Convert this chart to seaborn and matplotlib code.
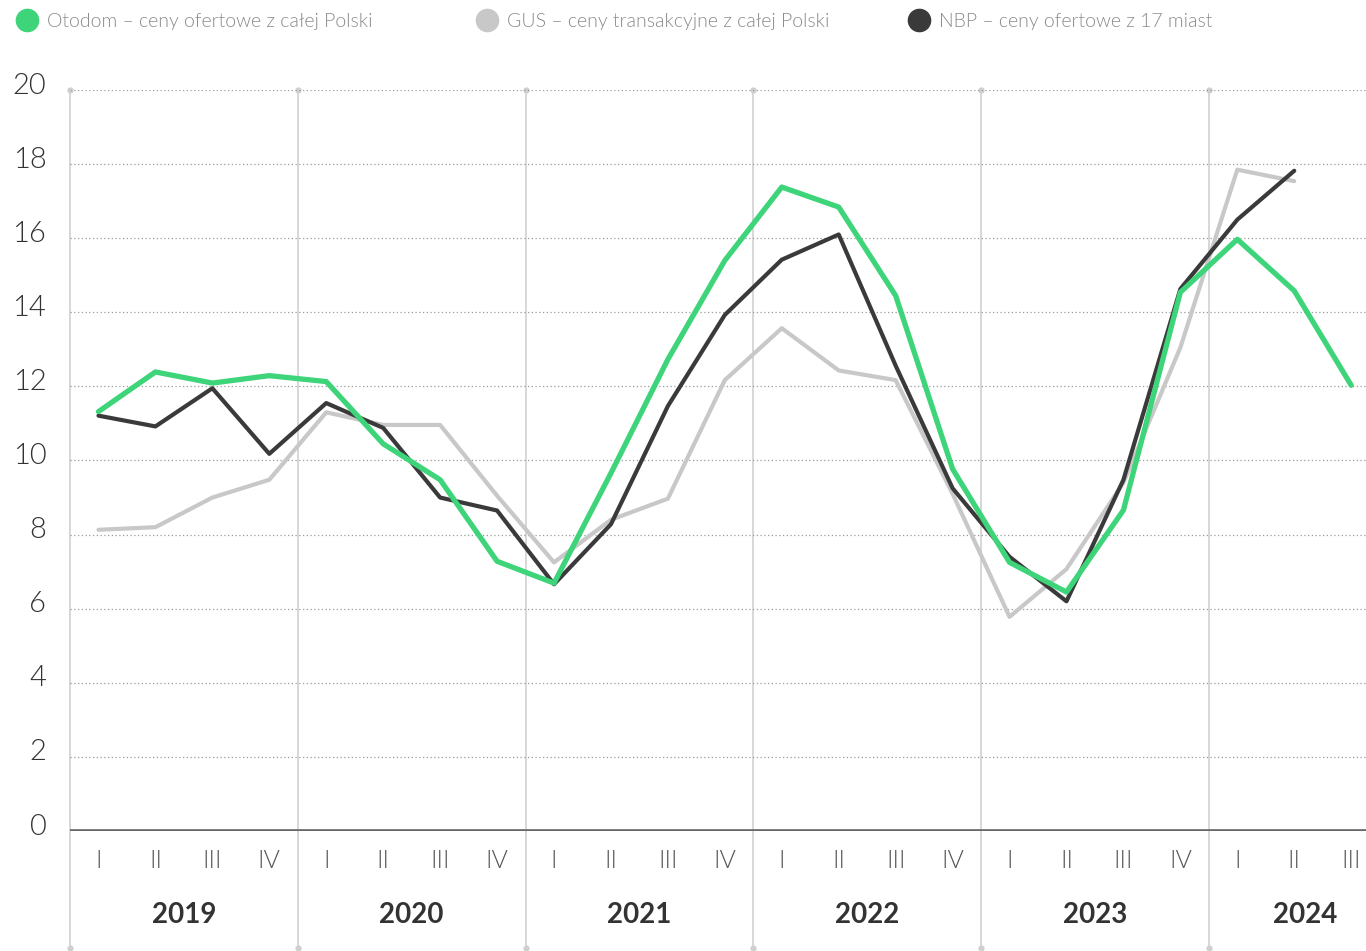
import numpy as np
import pandas as pd
import seaborn as sns
import matplotlib.pyplot as plt
import matplotlib.transforms as mtransforms
from matplotlib.lines import Line2D

# quarters 2019 I .. 2024 III
years = ['2019', '2020', '2021', '2022', '2023', '2024']
year_pos = [1.5, 5.5, 9.5, 13.5, 17.5, 21.2]
quarter_labels = ['I', 'II', 'III', 'IV'] * 5 + ['I', 'II', 'III']

otodom = [11.32, 12.39, 12.09, 12.29, 12.13, 10.45, 9.48, 7.28, 6.69, 9.66,
          12.73, 15.40, 17.38, 16.84, 14.45, 9.77, 7.25, 6.45, 8.66, 14.54,
          15.97, 14.58, 12.03]
gus = [8.13, 8.20, 9.00, 9.48, 11.30, 10.96, 10.96, 9.05, 7.25, 8.40,
       8.97, 12.17, 13.57, 12.43, 12.17, 9.10, 5.78, 7.07, 9.40, 13.05,
       17.85, 17.54]
nbp = [11.21, 10.92, 11.95, 10.18, 11.55, 10.88, 9.00, 8.65, 6.66, 8.28,
       11.47, 13.93, 15.42, 16.10, 12.56, 9.25, 7.40, 6.20, 9.48, 14.63,
       16.50, 17.82]

names = ['Otodom – ceny ofertowe z całej Polski',
         'GUS – ceny transakcyjne z całej Polski',
         'NBP – ceny ofertowe z 17 miast']
colors = {names[0]: '#3dd47a', names[1]: '#c8c8c8', names[2]: '#3a3a3a'}
widths = {names[0]: 3.8, names[1]: 3.0, names[2]: 3.0}

frames = []
for name, vals in [(names[1], gus), (names[2], nbp), (names[0], otodom)]:
    frames.append(pd.DataFrame({'q': np.arange(len(vals)), 'value': vals, 'series': name}))
df = pd.concat(frames, ignore_index=True)

sns.set_style('white')
plt.rcParams['font.family'] = ['Lato', 'DejaVu Sans']

fig = plt.figure(figsize=(13.66, 9.51), dpi=100)
ax = fig.add_axes([70 / 1366, 120 / 951, 1296 / 1366, 741 / 951])

# separators between years (extend below axis into label area)
trans = mtransforms.blended_transform_factory(ax.transData, ax.transAxes)
for k in range(len(years) + 1):
    xs = -0.5 + 4 * k
    ax.plot([xs, xs], [-0.158, 1.0], color='#d4d4d4', lw=1.3, transform=trans,
            clip_on=False, zorder=1)
    ax.plot([xs, xs], [-0.158, 1.0], ls='none', marker='o', ms=3.5, color='#cfcfcf',
            transform=trans, clip_on=False, zorder=1)

# dotted horizontal grid
for yv in range(2, 21, 2):
    ax.axhline(yv, color='#9a9a9a', lw=0.9, ls=(0, (1, 2)), zorder=1)
ax.axhline(0, color='#666666', lw=2.6, zorder=2)

for name in [names[1], names[2], names[0]]:
    sns.lineplot(data=df[df['series'] == name], x='q', y='value', color=colors[name],
                 lw=widths[name], ax=ax, legend=False, zorder=3)

ax.set_xlim(-0.5, 22.26)
ax.set_ylim(0, 20)
sns.despine(ax=ax, left=True, bottom=True, top=True, right=True)
ax.set_xlabel('')
ax.set_ylabel('')

ax.set_yticks(range(0, 21, 2))
ax.set_yticklabels([str(v) for v in range(0, 21, 2)], fontsize=21, color='#333333',
                   fontweight=300)
ax.tick_params(axis='y', length=0, pad=17)
offset = mtransforms.ScaledTranslation(0, 5 / 72, fig.dpi_scale_trans)
for lab in ax.get_yticklabels():
    lab.set_transform(lab.get_transform() + offset)

ax.set_xticks(range(len(quarter_labels)))
ax.set_xticklabels(quarter_labels, fontsize=18, color='#555555', fontweight=300)
ax.tick_params(axis='x', length=0, pad=13)

for yr, xp in zip(years, year_pos):
    ax.text(xp, -0.113, yr, transform=trans, ha='center', va='center',
            fontsize=20, fontweight='bold', color='#333333')

# legend at top
leg_x = [27, 487, 919]
for name, lx in zip(names, leg_x):
    fig.add_artist(Line2D([lx / 1366], [1 - 20 / 951], marker='o', ms=16, ls='none',
                          color=colors[name], transform=fig.transFigure))
    fig.text((lx + 20) / 1366, 1 - 21 / 951, name, ha='left', va='center',
             fontsize=14, color='#8a8a8a', fontweight=300)

plt.savefig('out.png', dpi=100)
